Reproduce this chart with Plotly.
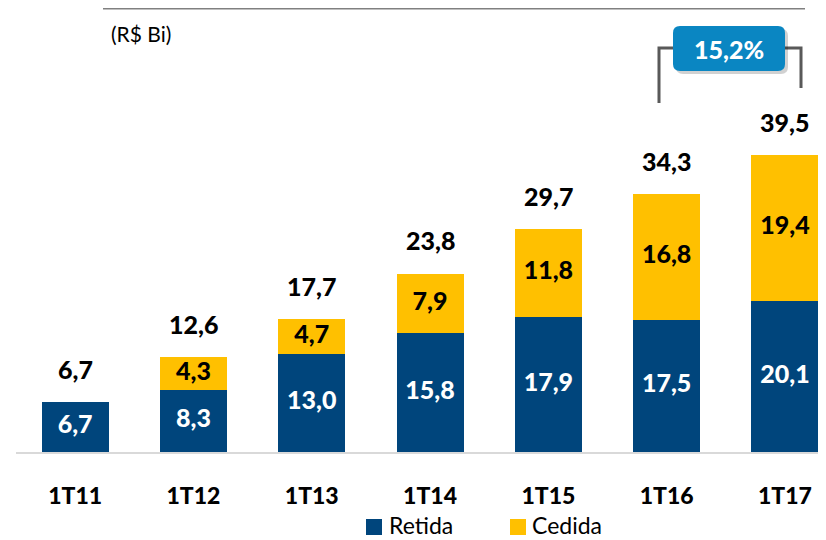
import plotly.graph_objects as go

categories = ["1T11", "1T12", "1T13", "1T14", "1T15", "1T16", "1T17"]
retida = [6.7, 8.3, 13.0, 15.8, 17.9, 17.5, 20.1]
cedida = [0.0, 4.3, 4.7, 7.9, 11.8, 16.8, 19.4]
totals = [6.7, 12.6, 17.7, 23.8, 29.7, 34.3, 39.5]
series_names = ["Retida", "Cedida"]
growth_label = "15,2%"
unit_label = "(R$ Bi)"

BLUE = "#00457C"
YELLOW = "#FFC000"
FONT = "Lato, Calibri, sans-serif"

OFF = 8  # page body margin
W, H = 826 - OFF, 540 - OFF
# plot area in page coords: x 16..826, y 8..452
L, R, T, B = 16 - OFF, 0, 0, H - (452 - OFF)
PW, PH = W - L - R, H - T - B
PXU = 7.52  # pixels per unit


def fmt(v):
    return f"{v:.1f}".replace(".", ",")


def px(x):  # page x -> paper
    return (x - OFF - L) / PW


def py(y):  # page y -> paper
    return 1 - (y - OFF - T) / PH


fig = go.Figure()
fig.add_trace(go.Bar(x=categories, y=retida, name=series_names[0],
                     marker=dict(color=BLUE, line=dict(width=0)), hoverinfo="skip"))
fig.add_trace(go.Bar(x=categories, y=[c if c > 0 else None for c in cedida], name=series_names[1],
                     marker=dict(color=YELLOW, line=dict(width=0)), hoverinfo="skip"))

# segment labels
fig.add_trace(go.Scatter(x=categories, y=[r / 2 for r in retida], mode="text",
                         text=[fmt(r) for r in retida],
                         textfont=dict(family=FONT, size=25, color="white", weight=900),
                         showlegend=False, hoverinfo="skip", cliponaxis=False))
ced_x = [c for c, v in zip(categories, cedida) if v > 0]
ced_y = [r + v / 2 for r, v in zip(retida, cedida) if v > 0]
ced_t = [fmt(v) for v in cedida if v > 0]
fig.add_trace(go.Scatter(x=ced_x, y=ced_y, mode="text", text=ced_t,
                         textfont=dict(family=FONT, size=25, color="black", weight=900),
                         showlegend=False, hoverinfo="skip", cliponaxis=False))

annotations = []
for c, t in zip(categories, totals):
    annotations.append(dict(x=c, y=t, xref="x", yref="y", text=fmt(t), showarrow=False,
                            yanchor="bottom", yshift=16,
                            font=dict(family=FONT, size=25, color="black", weight=900)))

annotations.append(dict(x=px(109), y=py(34), xref="paper", yref="paper", text=unit_label,
                        showarrow=False, xanchor="left", yanchor="middle",
                        font=dict(family=FONT, size=21, color="black")))
annotations.append(dict(x=px(729), y=py(49), xref="paper", yref="paper", text=growth_label,
                        showarrow=False, xanchor="center", yanchor="middle",
                        font=dict(family=FONT, size=25, color="white", weight=900)))

# custom legend
legend_items = [(series_names[0], BLUE, 366, 390), (series_names[1], YELLOW, 510, 533)]
shapes = []
for name, col, sx, tx in legend_items:
    shapes.append(dict(type="rect", xref="paper", yref="paper", x0=px(sx), x1=px(sx + 16),
                       y0=py(519), y1=py(535), fillcolor=col, line=dict(width=0)))
    annotations.append(dict(x=px(tx - 2), y=py(525), xref="paper", yref="paper", text=name,
                            showarrow=False, xanchor="left", yanchor="middle", borderpad=0,
                            font=dict(family=FONT, size=23, color="black")))


def rounded_rect(x0, y0, x1, y1, r):
    return (f"M {px(x0 + r)},{py(y0)} L {px(x1 - r)},{py(y0)} Q {px(x1)},{py(y0)} {px(x1)},{py(y0 + r)} "
            f"L {px(x1)},{py(y1 - r)} Q {px(x1)},{py(y1)} {px(x1 - r)},{py(y1)} "
            f"L {px(x0 + r)},{py(y1)} Q {px(x0)},{py(y1)} {px(x0)},{py(y1 - r)} "
            f"L {px(x0)},{py(y0 + r)} Q {px(x0)},{py(y0)} {px(x0 + r)},{py(y0)} Z")


shapes += [
    dict(type="line", xref="paper", yref="paper", x0=px(103), x1=px(805), y0=py(8), y1=py(8),
         line=dict(color="#808080", width=3)),
    dict(type="path", xref="paper", yref="paper",
         path=f"M {px(659)},{py(103)} L {px(659)},{py(48)} L {px(675)},{py(48)}",
         line=dict(color="#595959", width=3)),
    dict(type="path", xref="paper", yref="paper",
         path=f"M {px(783)},{py(48)} L {px(801)},{py(48)} L {px(801)},{py(88)}",
         line=dict(color="#595959", width=3)),
    dict(type="path", xref="paper", yref="paper", path=rounded_rect(676, 29, 788, 74, 7),
         fillcolor="rgba(0,0,0,0.18)", line=dict(width=0)),
    dict(type="path", xref="paper", yref="paper", path=rounded_rect(673, 26, 785, 71, 7),
         fillcolor="#0A86C2", line=dict(width=0)),
]

fig.update_layout(
    width=W, height=H, autosize=False,
    margin=dict(l=L, r=R, t=T, b=B),
    barmode="stack", bargap=0.434,
    plot_bgcolor="white", paper_bgcolor="white",
    font=dict(family=FONT),
    xaxis=dict(type="category", range=[-0.5, -0.5 + PW / 118.3], showgrid=False, zeroline=False,
               showline=True, linecolor="#D9D9D9", linewidth=2, ticks="",
               tickfont=dict(family=FONT, size=23, color="black", weight=900),
               ticklabelstandoff=22),
    yaxis=dict(range=[0, PH / PXU], visible=False),
    annotations=annotations,
    shapes=shapes,
    showlegend=False,
)

fig.write_html("out.html")
